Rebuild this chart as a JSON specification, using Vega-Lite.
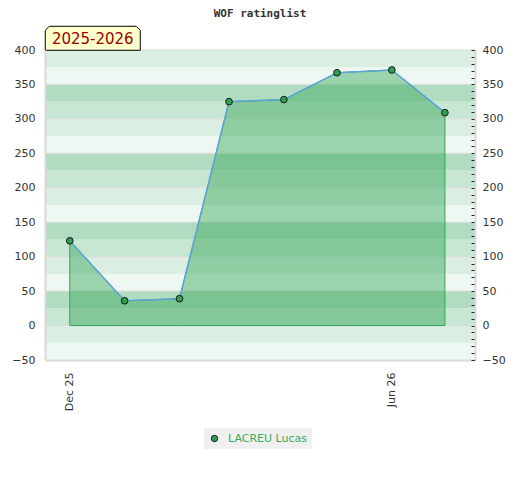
{
  "$schema": "https://vega.github.io/schema/vega-lite/v6.json",
  "description": "WOF ratinglist for LACREU Lucas, season 2025-2026.",
  "width": 430,
  "height": 310,
  "autosize": {"type": "none"},
  "padding": {"left": 45, "top": 50, "right": 45, "bottom": 120},
  "background": "white",
  "title": {
    "text": "WOF ratinglist",
    "font": "DejaVu Sans Mono",
    "fontSize": 11,
    "fontWeight": "bold",
    "color": "#333",
    "anchor": "middle",
    "offset": 5
  },
  "datasets": {
    "ratings": [
      {"date": "2025-12-01", "player": "LACREU Lucas", "rating": 123},
      {"date": "2026-01-01", "player": "LACREU Lucas", "rating": 36},
      {"date": "2026-02-01", "player": "LACREU Lucas", "rating": 39},
      {"date": "2026-03-01", "player": "LACREU Lucas", "rating": 325},
      {"date": "2026-04-01", "player": "LACREU Lucas", "rating": 328},
      {"date": "2026-05-01", "player": "LACREU Lucas", "rating": 367},
      {"date": "2026-06-01", "player": "LACREU Lucas", "rating": 371},
      {"date": "2026-07-01", "player": "LACREU Lucas", "rating": 309}
    ],
    "bands": [
      {"lo": -50, "hi": -25, "tone": "L"},
      {"lo": -25, "hi": 0, "tone": "M"},
      {"lo": 0, "hi": 25, "tone": "C"},
      {"lo": 25, "hi": 50, "tone": "D"},
      {"lo": 50, "hi": 75, "tone": "L"},
      {"lo": 75, "hi": 100, "tone": "M"},
      {"lo": 100, "hi": 125, "tone": "C"},
      {"lo": 125, "hi": 150, "tone": "D"},
      {"lo": 150, "hi": 175, "tone": "L"},
      {"lo": 175, "hi": 200, "tone": "M"},
      {"lo": 200, "hi": 225, "tone": "C"},
      {"lo": 225, "hi": 250, "tone": "D"},
      {"lo": 250, "hi": 275, "tone": "L"},
      {"lo": 275, "hi": 300, "tone": "M"},
      {"lo": 300, "hi": 325, "tone": "C"},
      {"lo": 325, "hi": 350, "tone": "D"},
      {"lo": 350, "hi": 375, "tone": "L"},
      {"lo": 375, "hi": 400, "tone": "M"}
    ]
  },
  "layer": [
    {
      "data": {"name": "bands"},
      "mark": {"type": "rect"},
      "encoding": {
        "y": {
          "field": "lo",
          "type": "quantitative",
          "scale": {"domain": [-50, 400], "nice": false, "zero": false},
          "axis": {
            "orient": "left",
            "values": [-50, 0, 50, 100, 150, 200, 250, 300, 350, 400],
            "ticks": false,
            "grid": false,
            "domainColor": "#d9d9d9",
            "domainWidth": 2,
            "labelColor": "#333",
            "labelFont": "DejaVu Sans",
            "labelFontSize": 11,
            "labelPadding": 10,
            "title": null,
            "zindex": 1
          }
        },
        "y2": {"field": "hi"},
        "color": {
          "field": "tone",
          "type": "nominal",
          "scale": {"domain": ["L", "M", "C", "D"], "range": ["#eff7f2", "#dbeee2", "#c8e6d4", "#b2dcc2"]},
          "legend": null
        }
      }
    },
    {
      "data": {"name": "bands"},
      "transform": [{"filter": "datum.hi % 50 == 0"}],
      "mark": {"type": "rule", "color": "#dcdcdc", "strokeWidth": 1},
      "encoding": {
        "y": {
          "field": "hi",
          "type": "quantitative",
          "axis": {
            "orient": "right",
            "values": [-50, -40, -30, -20, -10, 0, 10, 20, 30, 40, 50, 60, 70, 80, 90, 100, 110, 120, 130, 140, 150, 160, 170, 180, 190, 200, 210, 220, 230, 240, 250, 260, 270, 280, 290, 300, 310, 320, 330, 340, 350, 360, 370, 380, 390, 400],
            "labelExpr": "datum.value % 50 === 0 ? datum.label : ''",
            "labelOverlap": false,
            "labelBound": false,
            "tickSize": -4,
            "tickColor": "#222",
            "grid": false,
            "domainColor": "#d9d9d9",
            "domainWidth": 2,
            "labelColor": "#333",
            "labelFont": "DejaVu Sans",
            "labelFontSize": 11,
            "labelPadding": 11,
            "title": null,
            "zindex": 1
          }
        }
      }
    },
    {
      "data": {"name": "ratings"},
      "mark": {"type": "area", "color": "#32a657", "fillOpacity": 0.45, "stroke": "#32a657", "strokeWidth": 1, "strokeOpacity": 1},
      "encoding": {
        "x": {
          "field": "date",
          "type": "temporal",
          "scale": {
            "type": "utc",
            "domain": [
              {"year": 2025, "month": 11, "date": 17, "utc": true},
              {"year": 2026, "month": 7, "date": 18, "utc": true}
            ]
          },
          "axis": {
            "values": [
              {"year": 2025, "month": 12, "date": 1, "utc": true},
              {"year": 2026, "month": 6, "date": 1, "utc": true}
            ],
            "format": "%b %y",
            "labelAngle": -90,
            "ticks": false,
            "grid": false,
            "domainColor": "#d9d9d9",
            "domainWidth": 2,
            "labelColor": "#333",
            "labelFont": "DejaVu Sans",
            "labelFontSize": 11,
            "labelPadding": 12,
            "title": null,
            "zindex": 1
          }
        },
        "y": {"field": "rating", "type": "quantitative", "axis": null},
        "y2": {"datum": 0}
      }
    },
    {
      "data": {"name": "ratings"},
      "mark": {"type": "line", "color": "#5ba3d9", "strokeWidth": 1.5},
      "encoding": {
        "x": {"field": "date", "type": "temporal"},
        "y": {"field": "rating", "type": "quantitative", "axis": null}
      }
    },
    {
      "data": {"name": "ratings"},
      "mark": {"type": "point", "filled": true, "size": 45, "stroke": "#1a1a1a", "strokeWidth": 1, "opacity": 1},
      "encoding": {
        "x": {"field": "date", "type": "temporal"},
        "y": {"field": "rating", "type": "quantitative", "axis": null},
        "color": {
          "field": "player",
          "type": "nominal",
          "scale": {"range": ["#2e9e50"]},
          "legend": {
            "title": null,
            "orient": "none",
            "legendX": 159,
            "legendY": 378,
            "direction": "horizontal",
            "labelColor": "#3aaa5c",
            "labelFont": "DejaVu Sans",
            "labelFontSize": 11,
            "labelOffset": 8,
            "fillColor": "#f0f0f0",
            "padding": 5,
            "symbolType": "circle",
            "symbolSize": 40,
            "symbolStrokeColor": "#1a1a1a",
            "symbolStrokeWidth": 1
          }
        }
      }
    },
    {
      "data": {"values": [{"label": "2025-2026"}]},
      "mark": {
        "type": "point",
        "shape": "M-1,0.2526L-1,-0.168L-0.916,-0.2526L0.916,-0.2526L1,-0.168L1,0.2526Z",
        "size": 9025,
        "filled": true,
        "fill": "#ffffcc",
        "stroke": "#000",
        "strokeWidth": 1,
        "opacity": 1
      },
      "encoding": {
        "x": {"datum": {"year": 2025, "month": 12, "date": 14, "utc": true}, "type": "temporal"},
        "y": {"datum": 417, "type": "quantitative", "axis": null}
      }
    },
    {
      "data": {"values": [{"label": "2025-2026"}]},
      "mark": {"type": "text", "font": "DejaVu Sans", "fontSize": 15, "color": "#990000", "align": "center", "baseline": "middle", "dy": 1},
      "encoding": {
        "x": {"datum": {"year": 2025, "month": 12, "date": 14, "utc": true}, "type": "temporal"},
        "y": {"datum": 417, "type": "quantitative", "axis": null},
        "text": {"field": "label"}
      }
    }
  ],
  "resolve": {"scale": {"color": "independent"}, "axis": {"y": "independent"}},
  "config": {"view": {"stroke": null}}
}
